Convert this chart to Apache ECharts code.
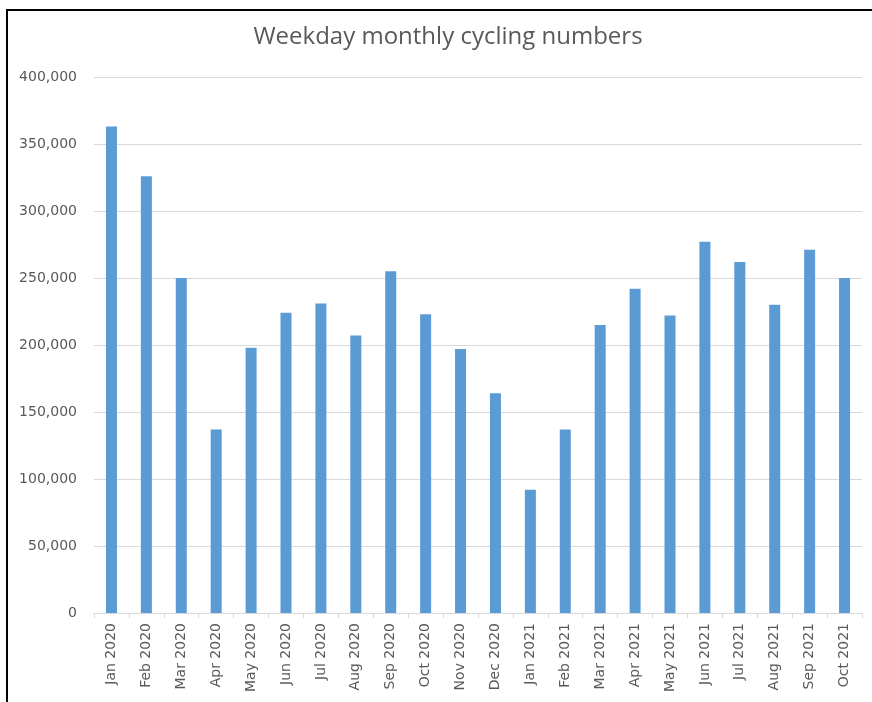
<!DOCTYPE html>
<html>
<head>
<meta charset="utf-8">
<script src="https://cdn.jsdelivr.net/npm/echarts@6/dist/echarts.min.js"></script>
<style>
  html, body { margin: 0; padding: 0; background: #fff; }
  #chart { position: absolute; left: 0; top: 0; width: 872px; height: 702px; }
  #frame { position: absolute; left: 6px; top: 9px; width: 900px; height: 720px;
           border-top: 2px solid #000; border-left: 2px solid #000; pointer-events: none; }
</style>
</head>
<body>
<div id="chart"></div>
<div id="frame"></div>
<script>
var months = ['Jan 2020', 'Feb 2020', 'Mar 2020', 'Apr 2020', 'May 2020', 'Jun 2020',
  'Jul 2020', 'Aug 2020', 'Sep 2020', 'Oct 2020', 'Nov 2020', 'Dec 2020',
  'Jan 2021', 'Feb 2021', 'Mar 2021', 'Apr 2021', 'May 2021', 'Jun 2021',
  'Jul 2021', 'Aug 2021', 'Sep 2021', 'Oct 2021'];
var cyclists = [363000, 326000, 250000, 137000, 198000, 224000,
  231000, 207000, 255000, 223000, 197000, 164000,
  92000, 137000, 215000, 242000, 222000, 277000,
  262000, 230000, 271000, 250000];
var yMax = 400000;
var yStep = 50000;

var labelColor = '#595959';
var lineColor = '#d9d9d9';

var option = {
  animation: false,
  title: {
    text: 'Weekday monthly cycling numbers',
    left: 443,
    top: 20,
    textAlign: 'center',
    textStyle: {
      fontFamily: 'Open Sans',
      fontWeight: 'normal',
      fontSize: 24,
      color: labelColor
    }
  },
  grid: {
    left: 94,
    right: 10,
    top: 77,
    bottom: 89
  },
  xAxis: {
    type: 'category',
    data: months,
    axisLine: { lineStyle: { color: lineColor } },
    axisTick: { show: true, length: 5, lineStyle: { color: lineColor } },
    axisLabel: {
      rotate: 90,
      margin: 10,
      interval: 0,
      fontFamily: 'DejaVu Sans',
      fontSize: 14,
      color: labelColor
    }
  },
  yAxis: {
    type: 'value',
    min: 0,
    max: yMax,
    interval: yStep,
    axisLine: { show: false },
    axisTick: { show: false },
    splitLine: { lineStyle: { color: lineColor, width: 1 } },
    axisLabel: {
      margin: 17,
      fontFamily: 'DejaVu Sans',
      fontSize: 14,
      color: labelColor,
      formatter: function (v) { return v.toLocaleString('en-US'); }
    }
  },
  series: [{
    name: 'Cyclists',
    type: 'bar',
    data: cyclists,
    barWidth: 11,
    itemStyle: { color: '#5b9bd5' }
  }]
};

var chart = echarts.init(document.getElementById('chart'));
chart.setOption(option);
</script>
</body>
</html>
